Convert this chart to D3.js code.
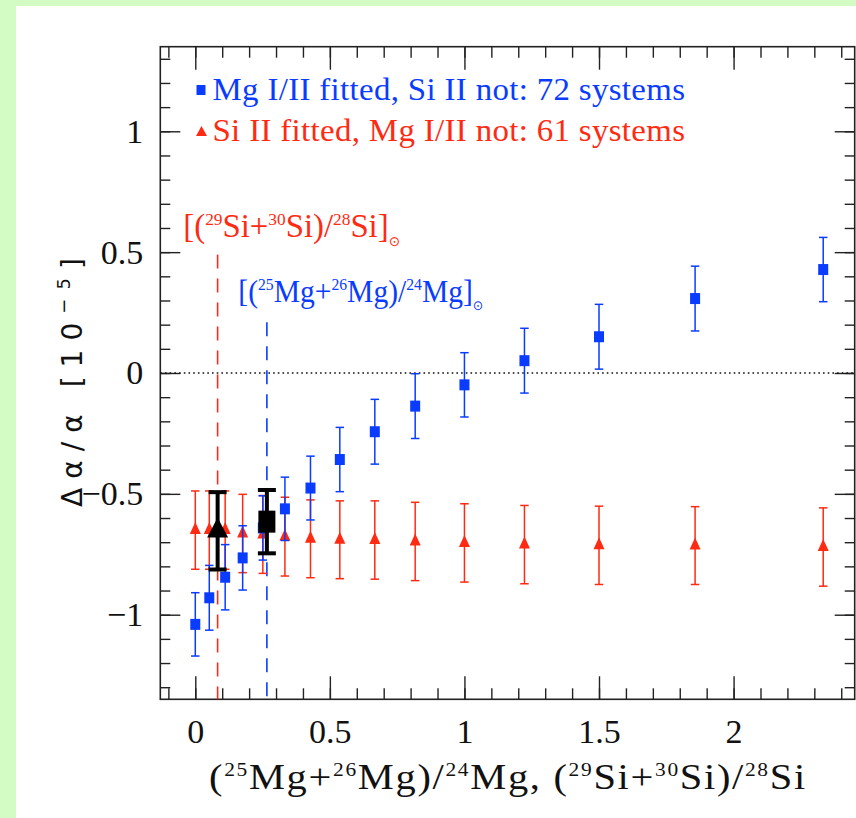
<!doctype html>
<html>
<head>
<meta charset="utf-8">
<title>Delta alpha vs isotopic ratio</title>
<style>
  body { margin: 0; background: #d3fbc4; }
  svg { display: block; }
  .tick line { stroke: #222; stroke-width: 1.4px; }
  .tick text { font-family: "Liberation Serif", serif; font-size: 34px; fill: #111; }
</style>
<script src="https://cdn.jsdelivr.net/npm/d3@7"></script>
</head>
<body>
<svg width="856" height="818"></svg>
<script>

// isotopic ratio (x) shared by both samples
var ratio = [0, 0.052, 0.111, 0.176, 0.251, 0.333, 0.428, 0.537, 0.667, 0.817, 1.0, 1.223, 1.5, 1.857, 2.333];

// Mg I/II fitted, Si II not (blue squares)
var mgDa = [-1.04, -0.93, -0.845, -0.765, -0.641, -0.562, -0.476, -0.358, -0.243, -0.137, -0.049, 0.051, 0.150, 0.308, 0.428];
var mgErr = [0.131, 0.134, 0.135, 0.133, 0.133, 0.131, 0.132, 0.133, 0.134, 0.134, 0.133, 0.134, 0.134, 0.134, 0.133];

// Si II fitted, Mg I/II not (red triangles)
var siDa = [-0.65, -0.65, -0.65, -0.664, -0.668, -0.677, -0.686, -0.69, -0.691, -0.697, -0.703, -0.71, -0.713, -0.714, -0.72];
var siErr = [0.162, 0.162, 0.162, 0.162, 0.161, 0.163, 0.161, 0.161, 0.162, 0.162, 0.162, 0.162, 0.162, 0.161, 0.162];

// solar ratios: [Si, Mg] and the values at those ratios (black points)
var solarRatio = [0.083, 0.266];
var solarLineTop = [0.49, 0.21];
var solarDa = [-0.653, -0.615];
var solarErr = [0.16, 0.131];

var xMajor = [0, 0.5, 1, 1.5, 2];
var yMajor = [-1, -0.5, 0, 0.5, 1];
var legendLabels = ['Mg I/II fitted, Si II not: 72 systems', 'Si II fitted, Mg I/II not: 61 systems'];

var blue = '#0a3cff', red = '#ff2a12';
var pL = 160.3, pR = 854.7, pT = 46.7, pB = 699.3;

var $svg = d3.select('svg');
$svg.append('rect').attr('x', 16).attr('y', 6).attr('width', 840).attr('height', 812).attr('fill', '#fff');

var x = d3.scaleLinear().domain([-0.13, 2.45]).range([pL, pR]);
var y = d3.scaleLinear().domain([-1.35, 1.35]).range([pB, pT]);
var fmt = d3.format('~g');
var xMinor = d3.range(-1, 25).map(function(d){ return d / 10; });
var yMinor = d3.range(-13, 14).map(function(d){ return d / 10; });

function addAxis(axis, tr, values, size, labels, pad) {
  var g = $svg.append('g').attr('transform', tr)
    .call(axis.tickValues(values).tickSize(size).tickPadding(pad || 0).tickFormat(labels ? fmt : ''));
  g.select('.domain').remove();
}
addAxis(d3.axisBottom(x), 'translate(0,' + pB + ')', xMinor, -11);
addAxis(d3.axisBottom(x), 'translate(0,' + pB + ')', xMajor, -23, true, 20);
addAxis(d3.axisTop(x), 'translate(0,' + pT + ')', xMinor, -11);
addAxis(d3.axisTop(x), 'translate(0,' + pT + ')', xMajor, -23);
addAxis(d3.axisLeft(y), 'translate(' + pL + ',0)', yMinor, -10);
addAxis(d3.axisLeft(y), 'translate(' + pL + ',0)', yMajor, -20, true, 17);
addAxis(d3.axisRight(y), 'translate(' + pR + ',0)', yMinor, -10);
addAxis(d3.axisRight(y), 'translate(' + pR + ',0)', yMajor, -20);

$svg.append('rect')
  .attr('x', pL).attr('y', pT)
  .attr('width', pR - pL).attr('height', pB - pT)
  .attr('fill', 'none').attr('stroke', '#222').attr('stroke-width', 1.6);

// zero line
$svg.append('line')
  .attr('x1', pL).attr('x2', pR)
  .attr('y1', y(0)).attr('y2', y(0))
  .attr('stroke', '#111').attr('stroke-width', 1.6)
  .attr('stroke-dasharray', '1.6,3.1');

// solar ratio lines
$svg.selectAll('.solar').data(solarRatio).enter().append('line')
  .attr('x1', function(d){ return x(d); }).attr('x2', function(d){ return x(d); })
  .attr('y1', function(d, i){ return y(solarLineTop[i]); }).attr('y2', pB)
  .attr('stroke', function(d, i){ return i === 0 ? red : blue; })
  .attr('stroke-width', 1.6)
  .attr('stroke-dasharray', '14,10');

function errorBars(ys, es, xs, color, cap, width) {
  var g = $svg.append('g').attr('stroke', color).attr('stroke-width', width);
  xs.forEach(function(xv, i){
    var cx = x(xv), y1 = y(ys[i] + es[i]), y2 = y(ys[i] - es[i]);
    g.append('line').attr('x1', cx).attr('x2', cx).attr('y1', y1).attr('y2', y2);
    g.append('line').attr('x1', cx - cap / 2).attr('x2', cx + cap / 2).attr('y1', y1).attr('y2', y1);
    g.append('line').attr('x1', cx - cap / 2).attr('x2', cx + cap / 2).attr('y1', y2).attr('y2', y2);
  });
}

function triPath(w, h) {
  return 'M0,' + (-2 * h / 3) + 'L' + (w / 2) + ',' + (h / 3) + 'L' + (-w / 2) + ',' + (h / 3) + 'Z';
}

// red: Si II
errorBars(siDa, siErr, ratio, red, 8.5, 1.5);
$svg.append('g').selectAll('path').data(siDa).enter().append('path')
  .attr('d', triPath(11, 12))
  .attr('transform', function(d, i){ return 'translate(' + x(ratio[i]) + ',' + y(d) + ')'; })
  .attr('fill', red);

// blue: Mg
errorBars(mgDa, mgErr, ratio, blue, 8.5, 1.5);
$svg.append('g').selectAll('rect').data(mgDa).enter().append('rect')
  .attr('x', function(d, i){ return x(ratio[i]) - 5; })
  .attr('y', function(d){ return y(d) - 5.5; })
  .attr('width', 10).attr('height', 11)
  .attr('fill', blue);

// black: solar values
errorBars(solarDa, solarErr, solarRatio, '#000', 18, 4);
$svg.append('path')
  .attr('d', triPath(21, 20))
  .attr('transform', 'translate(' + x(solarRatio[0]) + ',' + y(solarDa[0]) + ')')
  .attr('fill', '#000');
$svg.append('rect')
  .attr('x', x(solarRatio[1]) - 8.5).attr('y', y(solarDa[1]) - 11)
  .attr('width', 17).attr('height', 22)
  .attr('fill', '#000');

// text with superscripts
function richText(x0, y0, parts, size, color, family) {
  var t = $svg.append('text').attr('x', x0).attr('y', y0)
    .attr('font-family', family || '"Liberation Serif", serif')
    .attr('font-size', size).attr('fill', color);
  var shift = 0;
  parts.forEach(function(p){
    var kind = p[1] || 'n';
    var target = kind === 'sup' ? -0.36 * size : kind === 'sun' ? 0.26 * size : 0;
    var fs = kind === 'sup' ? 0.53 * size : kind === 'sun' ? 0.42 * size : size;
    var ts = t.append('tspan').attr('dy', target - shift).attr('font-size', fs).text(p[0]);
    if (kind === 'sun') ts.attr('font-family', '"DejaVu Sans", sans-serif');
    shift = target;
  });
  return t;
}

// widen text to w: half through letter spacing, half through glyph stretch
function fitWidth(t, x0, w) {
  var b = t.node().getBBox();
  var n = t.text().length;
  var s = w / b.width;
  var g = s > 1 ? 1 + (s - 1) * 0.5 : s;
  if (s > 1) {
    t.attr('letter-spacing', (w / g - b.width) / n);
    b = t.node().getBBox();
    g = w / b.width;
  }
  t.attr('transform', 'translate(' + (x0 - b.x * g) + ',0) scale(' + g + ',1)');
}

// legend
$svg.append('rect').attr('x', 196.5).attr('y', 85).attr('width', 9).attr('height', 10).attr('fill', blue);
$svg.append('path').attr('d', triPath(11, 10)).attr('transform', 'translate(201.5,132.7)').attr('fill', red);
fitWidth(richText(212.5, 100, [[legendLabels[0]]], 32, blue), 212.5, 473);
fitWidth(richText(212.5, 140.7, [[legendLabels[1]]], 32, red), 212.5, 473);

// solar annotations
fitWidth(richText(183.3, 237, [['[('], ['29', 'sup'], ['Si+'], ['30', 'sup'], ['Si)/'], ['28', 'sup'], ['Si]'], ['\u2299', 'sun']], 33, red), 183.3, 217);
fitWidth(richText(238.3, 301.7, [['[('], ['25', 'sup'], ['Mg+'], ['26', 'sup'], ['Mg)/'], ['24', 'sup'], ['Mg]'], ['\u2299', 'sun']], 32, blue), 238.3, 245);

// x-axis title
fitWidth(richText(209, 789, [['('], ['25', 'sup'], ['Mg+'], ['26', 'sup'], ['Mg)/'], ['24', 'sup'], ['Mg,  ('], ['29', 'sup'], ['Si+'], ['30', 'sup'], ['Si)/'], ['28', 'sup'], ['Si']], 36, '#111'), 209, 598);

// y-axis title
var yg = $svg.append('g').attr('transform', 'translate(81.7,373.5) rotate(-90)');
var yt = yg.append('text').attr('x', -133.5).attr('y', 0)
  .attr('font-family', '"DejaVu Sans", sans-serif').attr('font-size', 28).attr('fill', '#111');
yt.append('tspan').text('\u0394\u03b1/\u03b1 [10');
yt.append('tspan').attr('dy', -12).attr('font-size', 18).text('\u22125');
yt.append('tspan').attr('dy', 12).text(']');
var yw = yt.node().getComputedTextLength();
yt.attr('letter-spacing', Math.max(0, (267 - yw) / 12));

</script>
</body>
</html>
